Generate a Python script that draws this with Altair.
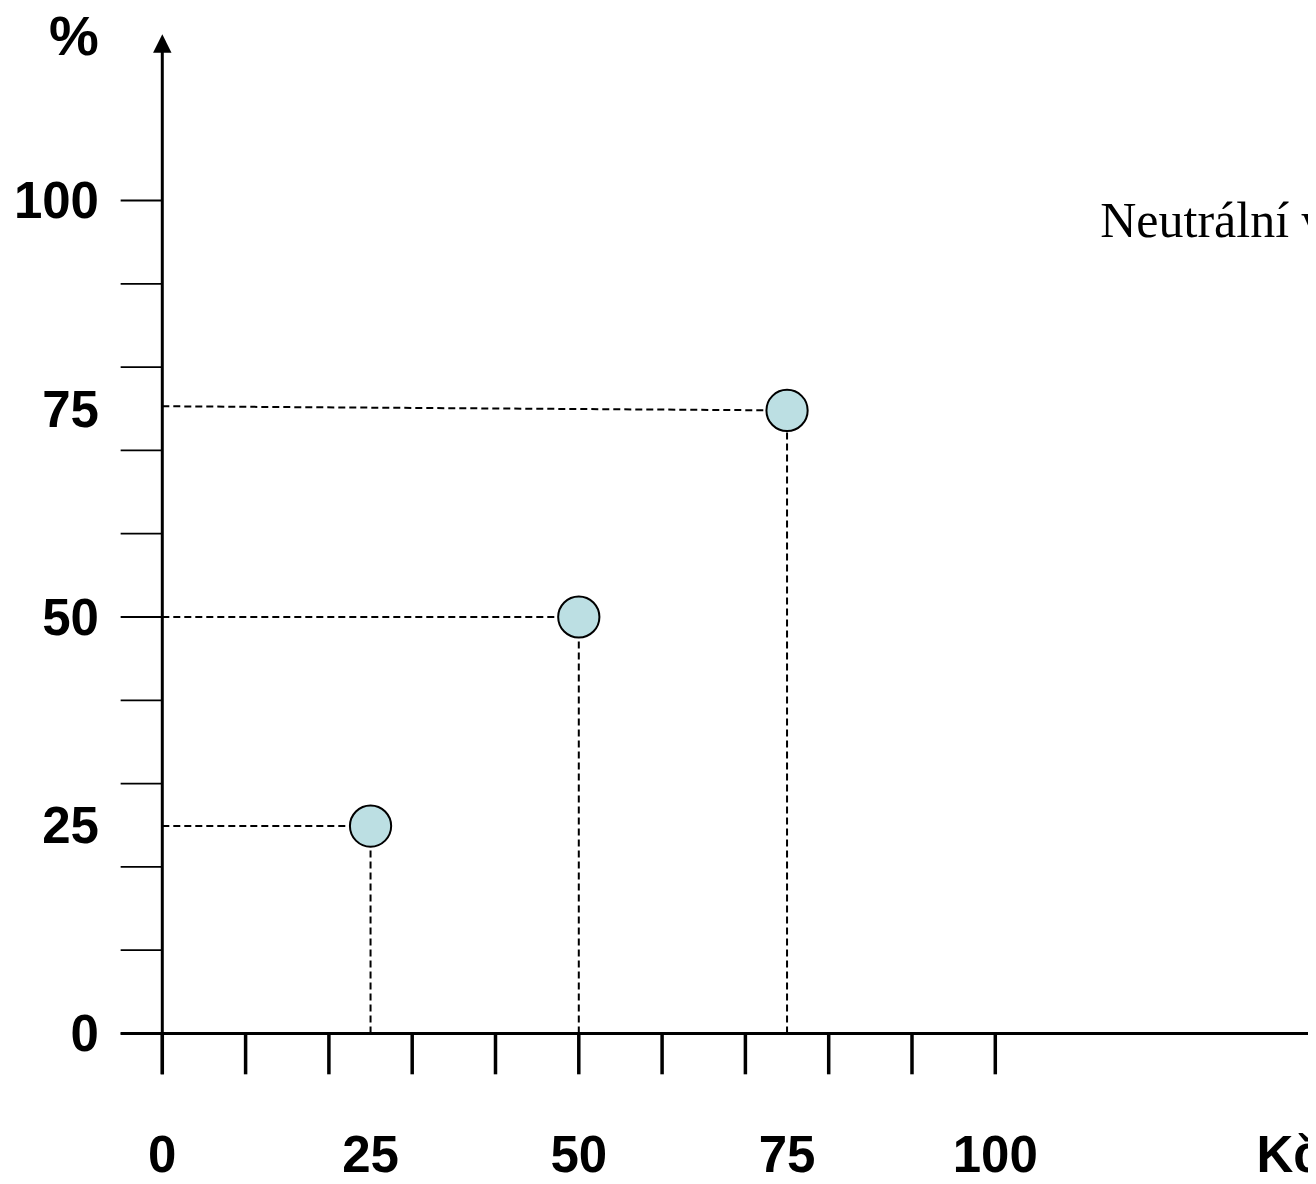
import altair as alt
import pandas as pd

# ---- data ----
x_ticks = [0, 10, 20, 30, 40, 50, 60, 70, 80, 90, 100]
y_ticks = [0, 10, 20, 30, 40, 50, 60, 70, 80, 90, 100]
x_labels = [0, 25, 50, 75, 100]
y_labels = [0, 25, 50, 75, 100]
point_x = [25, 50, 75]
point_y = [24.9, 50, 74.8]
guide_left_y = [24.9, 50, 75.3]
x_axis_title = "Kč"
y_axis_title = "%"
note_text = "Neutrální vztah k riziku"

# axis extents (data units)
X_MIN, X_MAX = -18.523, 137.54
Y_MIN, Y_MAX = -17.107, 123.109
TICK = 5.0
Y_AXIS_TOP = 118.7
Y_ARROW = 118.85
X_ARROW = 139.05
X_LABEL_BASE = -16.6

xs = alt.Scale(domain=[X_MIN, X_MAX], nice=False, zero=False)
ys = alt.Scale(domain=[Y_MIN, Y_MAX], nice=False, zero=False)


def X(f="x"):
    return alt.X(f"{f}:Q", scale=xs, axis=None)


def Y(f="y"):
    return alt.Y(f"{f}:Q", scale=ys, axis=None)


# axis lines
axes_df = pd.DataFrame({
    "x": [-TICK, 0], "y": [0, -TICK * 0.98],
    "x2": [X_MAX + 2, 0], "y2": [0, Y_AXIS_TOP],
})
axes = alt.Chart(axes_df).mark_rule(color="black", strokeWidth=3).encode(
    x=X(), y=Y(), x2="x2:Q", y2="y2:Q")

# y ticks (thin, left of axis)
yt_df = pd.DataFrame({"x": [-TICK] * len(y_ticks), "x2": [0] * len(y_ticks), "y": y_ticks})
yt = alt.Chart(yt_df).mark_rule(color="black", strokeWidth=1.8).encode(
    x=X(), x2="x2:Q", y=Y(), y2="y:Q")

# x ticks (thick, below axis)
xt_df = pd.DataFrame({"x": x_ticks, "y": [-TICK * 0.98] * len(x_ticks), "y2": [0] * len(x_ticks)})
xt = alt.Chart(xt_df).mark_rule(color="black", strokeWidth=3.5).encode(
    x=X(), x2="x:Q", y=Y(), y2="y2:Q")

# arrows
arrow_up = alt.Chart(pd.DataFrame({"x": [0], "y": [Y_ARROW]})).mark_point(
    shape="M0,-1L1,1L-1,1Z", size=340, filled=True, color="black", opacity=1
).encode(x=X(), y=Y())
arrow_right = alt.Chart(pd.DataFrame({"x": [X_ARROW], "y": [0]})).mark_point(
    shape="M1,0L-1,1L-1,-1Z", size=340, filled=True, color="black", opacity=1
).encode(x=X(), y=Y())

# dashed guides
pts = pd.DataFrame({"x": point_x, "y": point_y, "yl": guide_left_y,
                    "x0": [0] * len(point_x), "y0": [0] * len(point_x)})
hguides = alt.Chart(pts).mark_rule(color="black", strokeWidth=2, strokeDash=[7, 4]).encode(
    x=X("x0"), y=Y("yl"), x2="x:Q", y2="y:Q")
vguides = alt.Chart(pts).mark_rule(color="black", strokeWidth=2, strokeDash=[7, 4]).encode(
    x=X(), y=Y("y0"), x2="x:Q", y2="y:Q")

points = alt.Chart(pts).mark_point(
    shape="circle", size=1700, filled=True, fill="#BCDFE3", stroke="black",
    strokeWidth=2, opacity=1, fillOpacity=1
).encode(x=X(), y=Y())

# labels
ylab = alt.Chart(pd.DataFrame({"x": [-7.6] * len(y_labels), "y": y_labels,
                               "t": [str(v) for v in y_labels]})).mark_text(
    font="Liberation Sans", fontWeight="bold", fontSize=51, align="right",
    baseline="middle", dy=3, color="black"
).encode(x=X(), y=Y(), text="t:N")

xlab = alt.Chart(pd.DataFrame({"x": x_labels, "y": [X_LABEL_BASE] * len(x_labels),
                               "t": [str(v) for v in x_labels]})).mark_text(
    font="Liberation Sans", fontWeight="bold", fontSize=51, align="center",
    baseline="alphabetic", color="black"
).encode(x=X(), y=Y(), text="t:N")

xtitle = alt.Chart(pd.DataFrame({"x": [131.35], "y": [X_LABEL_BASE], "t": [x_axis_title]})).mark_text(
    font="Liberation Sans", fontWeight="bold", fontSize=51, align="left",
    baseline="alphabetic", color="black"
).encode(x=X(), y=Y(), text="t:N")

ytitle = alt.Chart(pd.DataFrame({"x": [-10.6], "y": [119.5], "t": [y_axis_title]})).mark_text(
    font="Liberation Sans", fontWeight="bold", fontSize=56, align="center",
    baseline="middle", color="black"
).encode(x=X(), y=Y(), text="t:N")

note = alt.Chart(pd.DataFrame({"x": [112.6], "y": [95.6], "t": [note_text]})).mark_text(
    font="Liberation Serif", fontSize=50, align="left", baseline="alphabetic", color="black"
).encode(x=X(), y=Y(), text="t:N")

chart = alt.layer(
    axes, yt, xt, arrow_up, arrow_right, hguides, vguides, points,
    ylab, xlab, xtitle, ytitle, note
).properties(
    width=1300, height=1168, padding=0,
    autosize=alt.AutoSizeParams(type="none"),
    background="white",
).configure_view(stroke=None)

chart.save("out.html", embed_options={"renderer": "svg", "actions": False})
